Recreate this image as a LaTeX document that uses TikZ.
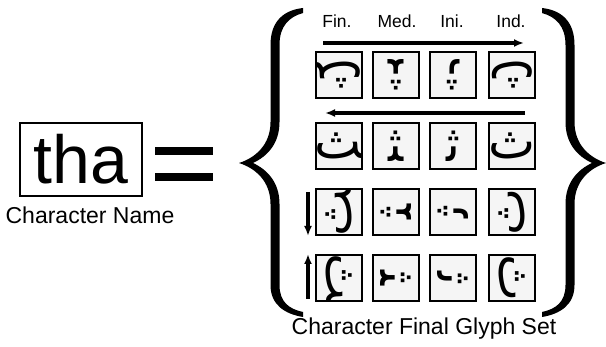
\documentclass[tikz,border=0pt]{standalone}
\usepackage{fontspec}
\setmainfont{Liberation Sans}
\newfontfamily\arabicfont[Script=Arabic]{DejaVu Sans}
\usetikzlibrary{arrows.meta}

% one curly brace, stroke centred on x=0, tip pointing to negative x
\newcommand{\bracepath}{
  (28,8) .. controls (10,10) and (-4.5,20) .. (-4.5,45) -- (-4.5,122)
  .. controls (-4.5,145) and (-20,158) .. (-36,163)
  .. controls (-20,168) and (-4.5,181) .. (-4.5,204) -- (-4.5,285)
  .. controls (-4.5,305) and (10,314) .. (28,317)
  -- (28,312) .. controls (14,309) and (4.5,302) .. (4.5,285) -- (4.5,204)
  .. controls (4.5,183) and (-7,170) .. (-22,163)
  .. controls (-7,156) and (4.5,143) .. (4.5,122) -- (4.5,45)
  .. controls (4.5,26) and (14,17) .. (28,13) -- cycle}

\begin{document}
\begin{tikzpicture}[x=1pt,y=-1pt,
  glyphbox/.style={draw,line width=1.8pt,fill=black!4,minimum width=46pt,
    minimum height=46pt,inner sep=0pt},
  glyph/.style={font=\arabicfont\fontsize{50}{50}\selectfont,inner sep=0pt},
  flow/.style={line width=3.2pt,-{Latex[length=10pt,width=8pt]}},
  head/.style={font=\fontsize{17.5}{17.5}\selectfont,anchor=base},
  caption/.style={font=\fontsize{23}{23}\selectfont,anchor=base},
  namebox/.style={draw,line width=1.6pt,minimum width=122pt,minimum height=73pt,
    inner sep=0pt,font=\fontsize{68}{68}\selectfont}]

\useasboundingbox (0,0) rectangle (606,347);

% character name and equals sign
\node[namebox] (tha) at (81,159.5) {tha};
\node[caption] (charname) at (90,224) {Character Name};
\fill (155,147) rectangle (213,155);
\fill (155,173) rectangle (213,181);

% braces
\begin{scope}[shift={(275,0)}]
  \fill \bracepath;
\end{scope}
\begin{scope}[shift={(570,0)},xscale=-1]
  \fill \bracepath;
\end{scope}

% column headers
\node[head] (hfin) at (337,28) {Fin.};
\node[head] (hmed) at (397,28) {Med.};
\node[head] (hini) at (452,28) {Ini.};
\node[head] (hind) at (511,28) {Ind.};

% glyph grid: one row per orientation, each glyph clipped to its box
\foreach \r/\ry/\rot in {1/75/180, 2/146/0, 3/212/90, 4/278/-90} {
  \foreach \c/\cx/\g in {1/339/ﺚ, 2/396/ﺜ, 3/453/ﺛ, 4/512/ﺙ} {
    \node[glyphbox,path picture={
        \node[glyph,rotate=\rot] at (path picture bounding box.center) {\g};
      }] (b\r\c) at (\cx,\ry) {};
  }
}

% direction arrows
\coordinate (a1s) at (323,43);  \coordinate (a1e) at (524,43);
\coordinate (a2s) at (525,113); \coordinate (a2e) at (325,113);
\coordinate (a3s) at (308,192); \coordinate (a3e) at (308,236);
\coordinate (a4s) at (308,299); \coordinate (a4e) at (308,254);
\draw[flow] (a1s) -- (a1e);
\draw[flow] (a2s) -- (a2e);
\draw[flow] (a3s) -- (a3e);
\draw[flow] (a4s) -- (a4e);

\node[caption] (glyphset) at (424,335) {Character Final Glyph Set};
\end{tikzpicture}
\end{document}
